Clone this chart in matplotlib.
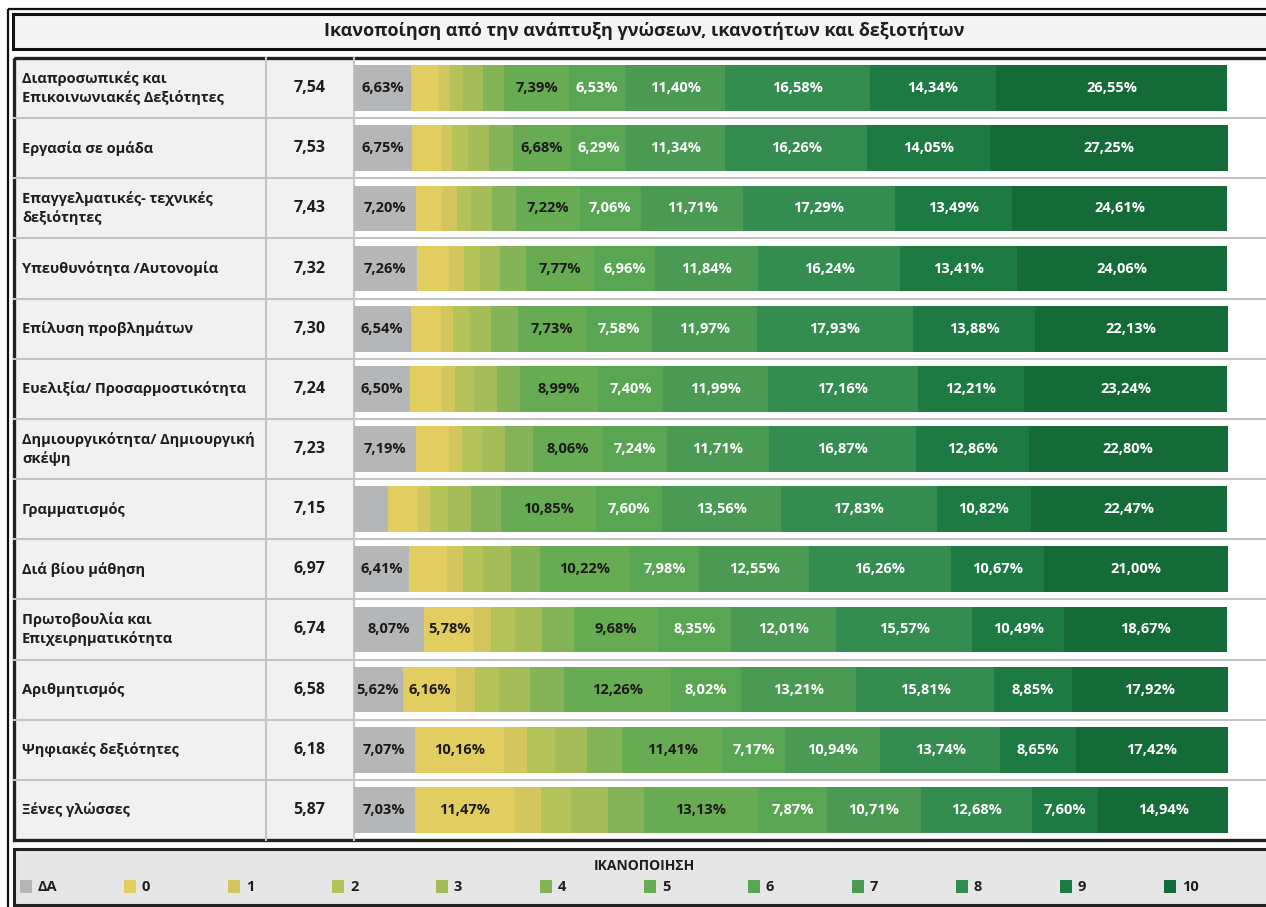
import matplotlib
matplotlib.use("Agg")
import matplotlib.pyplot as plt
from matplotlib.patches import Rectangle
import matplotlib.transforms as mtransforms

plt.rcParams['font.family'] = ['Open Sans', 'DejaVu Sans']

title = "Ικανοποίηση από την ανάπτυξη γνώσεων, ικανοτήτων και δεξιοτήτων"
legend_title = "ΙΚΑΝΟΠΟΙΗΣΗ"

categories = [
    "Διαπροσωπικές και\nΕπικοινωνιακές Δεξιότητες",
    "Εργασία σε ομάδα",
    "Επαγγελματικές- τεχνικές\nδεξιότητες",
    "Υπευθυνότητα /Αυτονομία",
    "Επίλυση προβλημάτων",
    "Ευελιξία/ Προσαρμοστικότητα",
    "Δημιουργικότητα/ Δημιουργική\nσκέψη",
    "Γραμματισμός",
    "Διά βίου μάθηση",
    "Πρωτοβουλία και\nΕπιχειρηματικότητα",
    "Αριθμητισμός",
    "Ψηφιακές δεξιότητες",
    "Ξένες γλώσσες",
]
means = [7.54, 7.53, 7.43, 7.32, 7.30, 7.24, 7.23, 7.15, 6.97, 6.74, 6.58, 6.18, 5.87]

levels = ["ΔΑ", "0", "1", "2", "3", "4", "5", "6", "7", "8", "9", "10"]

v_DA = [6.63, 6.75, 7.20, 7.26, 6.54, 6.50, 7.19, 3.97, 6.41, 8.07, 5.62, 7.07, 7.03]
v_0 = [3.00, 3.40, 2.95, 3.65, 3.50, 3.68, 3.70, 3.40, 4.30, 5.78, 6.16, 10.16, 11.47]
v_1 = [1.42, 1.15, 1.72, 1.72, 1.38, 1.49, 1.49, 1.38, 1.84, 1.84, 2.18, 2.64, 2.99]
v_2 = [1.46, 1.84, 1.61, 1.84, 1.95, 2.07, 2.30, 2.07, 2.30, 2.76, 2.64, 3.22, 3.45]
v_3 = [2.33, 2.41, 2.41, 2.30, 2.41, 2.64, 2.64, 2.64, 3.22, 3.10, 3.56, 3.68, 4.14]
v_4 = [2.41, 2.68, 2.76, 2.99, 3.10, 2.64, 3.22, 3.45, 3.33, 3.68, 3.91, 4.02, 4.14]
v_5 = [7.39, 6.68, 7.22, 7.77, 7.73, 8.99, 8.06, 10.85, 10.22, 9.68, 12.26, 11.41, 13.13]
v_6 = [6.53, 6.29, 7.06, 6.96, 7.58, 7.40, 7.24, 7.60, 7.98, 8.35, 8.02, 7.17, 7.87]
v_7 = [11.40, 11.34, 11.71, 11.84, 11.97, 11.99, 11.71, 13.56, 12.55, 12.01, 13.21, 10.94, 10.71]
v_8 = [16.58, 16.26, 17.29, 16.24, 17.93, 17.16, 16.87, 17.83, 16.26, 15.57, 15.81, 13.74, 12.68]
v_9 = [14.34, 14.05, 13.49, 13.41, 13.88, 12.21, 12.86, 10.82, 10.67, 10.49, 8.85, 8.65, 7.60]
v_10 = [26.55, 27.25, 24.61, 24.06, 22.13, 23.24, 22.80, 22.47, 21.00, 18.67, 17.92, 17.42, 14.94]

series = [v_DA, v_0, v_1, v_2, v_3, v_4, v_5, v_6, v_7, v_8, v_9, v_10]

colors = ["#b4b6b8", "#e2cd60", "#d4c65e", "#b3c35a", "#a5bd58", "#84b457",
          "#67ab53", "#58a553", "#4a9a53", "#358c50", "#1d7a43", "#156b38"]
label_colors = ["#1a1a1a", "#1a1a1a", "#1a1a1a", "#1a1a1a", "#1a1a1a", "#1a1a1a",
                "#1a1a1a", "white", "white", "white", "white", "white"]

W, H = 1266, 907
fig = plt.figure(figsize=(W / 100, H / 100), dpi=100)
fig.patch.set_facecolor("white")

bg = fig.add_axes([0, 0, 1, 1])
bg.set_xlim(0, W)
bg.set_ylim(H, 0)
bg.axis("off")

row_top, row_bot = 58, 840
bar_x0, bar_x1 = 353.5, 1228
ax = fig.add_axes([bar_x0 / W, (H - row_bot) / H, (bar_x1 - bar_x0) / W, (row_bot - row_top) / H])
n = len(categories)
ax.set_ylim(n - 0.5, -0.5)
ax.set_xlim(0, 100.1)
ax.axis("off")

blend = mtransforms.blended_transform_factory(bg.transData, ax.transData)
dark = "#1e1e1e"

# outer frame
bg.add_patch(Rectangle((8, 9), 1400, 1000, fill=False, ec="#111", lw=1.6))
# title box
bg.add_patch(Rectangle((12.5, 13.5), 1400, 35, fc="#f4f5f4", ec="#111", lw=2.2))
bg.text(644, 31, title, ha="center", va="center", fontsize=13, fontweight="bold", color=dark)

# table background for label columns
bg.add_patch(Rectangle((14, -0.5), 353.5 - 14, n, transform=blend, fc="#f0f1f0", ec="none"))
for i in range(1, n):
    bg.plot([14, 1400], [i - 0.5, i - 0.5], transform=blend, color="#c4c4c4", lw=1.5)
for xv in (265.5, 353.5):
    bg.plot([xv, xv], [-0.5, n - 0.5], transform=blend, color="#c4c4c4", lw=1.5)
bg.add_patch(Rectangle((14, -0.5), 1400, n, transform=blend, fill=False, ec="#222", lw=2.4))

for i, (cat, m) in enumerate(zip(categories, means)):
    bg.text(22, i, cat, transform=blend, ha="left", va="center", fontsize=10.5,
            fontweight="bold", color=dark, linespacing=1.35)
    bg.text(309.5, i, f"{m:.2f}".replace(".", ","), transform=blend, ha="center",
            va="center", fontsize=11.5, fontweight="bold", color=dark)

# stacked bars
y = list(range(n))
left = [0.0] * n
for k, vals in enumerate(series):
    ax.barh(y, vals, left=left, height=0.76, color=colors[k], edgecolor="none", clip_on=False)
    for i, v in enumerate(vals):
        if v >= 5:
            ax.text(left[i] + v / 2, i, f"{v:.2f}".replace(".", ",") + "%", ha="center",
                    va="center", fontsize=10.5, fontweight="bold", color=label_colors[k])
    left = [a + b for a, b in zip(left, vals)]

# legend box
bg.add_patch(Rectangle((14, 849), 1400, 56, fc="#e6e6e6", ec="#222", lw=2.2))
bg.text(644, 866, legend_title, ha="center", va="center", fontsize=10, fontweight="bold", color=dark)
for k, lab in enumerate(levels):
    x0 = 20 + 104 * k
    bg.add_patch(Rectangle((x0, 880), 12, 13, fc=colors[k], ec="none"))
    bg.text(x0 + 18, 887, lab, ha="left", va="center", fontsize=10.5, fontweight="bold", color=dark)

fig.savefig("out.png", dpi=100)
